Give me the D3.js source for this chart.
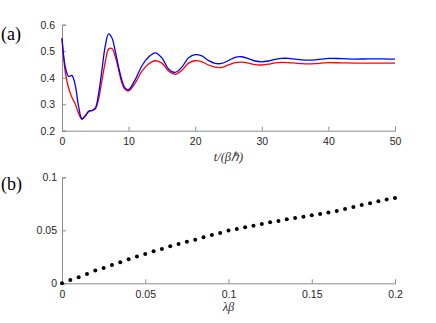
<!DOCTYPE html>
<html>
<head>
<meta charset="utf-8">
<script src="https://cdn.jsdelivr.net/npm/d3@7"></script>
<style>
  body {margin: 0; background: #fff;}
  .axis path, .axis line {stroke: #8c8c8c; stroke-width: 1;}
  .axis text {font-family: 'Liberation Sans', Arial, sans-serif; font-size: 10.5px; fill: #262626;}
  .panel {font-family: 'Liberation Serif', 'Times New Roman', serif; font-size: 18px; fill: #000;}
  .xlabel {font-family: 'Liberation Serif', 'Times New Roman', serif; font-size: 12.5px; font-style: italic; fill: #333;}
</style>
</head>
<body>
<script>
// panel (a): time series
const tValues = [0, 0.5, 1, 1.5, 2, 2.5, 3, 3.5, 4, 4.5, 5, 5.5, 6, 6.5, 7, 7.5, 8, 8.5, 9, 9.5,
  10, 11, 12, 13, 14, 15, 16, 17, 18, 19, 20, 21, 22, 23, 24, 25, 26, 27, 28, 29,
  30, 31, 32, 33, 34, 35, 36, 37, 38, 39, 40, 42, 44, 46, 48, 50]
const blueValues = [0.549, 0.44, 0.405, 0.408, 0.37, 0.29, 0.245, 0.255, 0.273, 0.277, 0.285, 0.34, 0.43, 0.52, 0.565, 0.55, 0.5, 0.44, 0.39, 0.36,
  0.355, 0.393, 0.445, 0.478, 0.494, 0.475, 0.433, 0.42, 0.44, 0.475, 0.487, 0.482, 0.465, 0.454, 0.454, 0.465, 0.477, 0.479, 0.472, 0.463,
  0.46, 0.463, 0.469, 0.473, 0.473, 0.47, 0.467, 0.466, 0.467, 0.47, 0.473, 0.472, 0.47, 0.471, 0.471, 0.47]
const redValues = [0.549, 0.42, 0.36, 0.325, 0.3, 0.265, 0.243, 0.258, 0.272, 0.276, 0.282, 0.32, 0.39, 0.46, 0.508, 0.51, 0.48, 0.43, 0.38, 0.355,
  0.35, 0.38, 0.425, 0.452, 0.464, 0.455, 0.425, 0.413, 0.428, 0.455, 0.464, 0.46, 0.448, 0.44, 0.439, 0.448, 0.457, 0.459, 0.455, 0.449,
  0.448, 0.451, 0.456, 0.458, 0.457, 0.455, 0.453, 0.452, 0.453, 0.455, 0.457, 0.456, 0.455, 0.455, 0.455, 0.455]
const topXTicks = [0, 10, 20, 30, 40, 50]
const topYTicks = [0.2, 0.3, 0.4, 0.5, 0.6]

// panel (b): scatter
const lambdaValues = [0, 0.005, 0.01, 0.015, 0.02, 0.025, 0.03, 0.035, 0.04, 0.045, 0.05, 0.055, 0.06, 0.065, 0.07, 0.075, 0.08, 0.085, 0.09, 0.095,
  0.1, 0.105, 0.11, 0.115, 0.12, 0.125, 0.13, 0.135, 0.14, 0.145, 0.15, 0.155, 0.16, 0.165, 0.17, 0.175, 0.18, 0.185, 0.19, 0.195, 0.2]
const dotValues = [0, 0.0031, 0.0057, 0.0088, 0.012, 0.0145, 0.0173, 0.0198, 0.0226, 0.0252, 0.0277, 0.0303, 0.0324, 0.0349, 0.0371, 0.0393, 0.0412, 0.0434, 0.0455, 0.0475,
  0.0497, 0.0513, 0.0528, 0.0544, 0.056, 0.0575, 0.0588, 0.0604, 0.0616, 0.0629, 0.0642, 0.0654, 0.0667, 0.0682, 0.0701, 0.072, 0.0739, 0.0755, 0.0774, 0.079, 0.0805]
const botXTicks = [0, 0.05, 0.1, 0.15, 0.2]
const botYTicks = [0, 0.05, 0.1]

const svg = d3.select('body').append('svg')
  .attr('width', 436).attr('height', 323)

const left = 62, right = 395

// top panel
const x1 = d3.scaleLinear().domain([0, 50]).range([left, right])
const y1 = d3.scaleLinear().domain([0.2, 0.6]).range([130.7, 24.7])

svg.append('g').attr('class', 'axis')
  .attr('transform', `translate(0,${y1(0.2)})`)
  .call(d3.axisBottom(x1).tickValues(topXTicks).tickSize(-4).tickPadding(7).tickFormat(d3.format('')))
svg.append('g').attr('class', 'axis')
  .attr('transform', `translate(${left},0)`)
  .call(d3.axisLeft(y1).tickValues(topYTicks).tickSize(-4).tickPadding(7).tickFormat(d3.format('.1f')))

const line1 = d3.line().x((d, i) => x1(tValues[i])).y(d => y1(d)).curve(d3.curveCatmullRom)
svg.append('path').datum(redValues).attr('d', line1)
  .attr('fill', 'none').attr('stroke', '#ff0000').attr('stroke-width', 1.3)
svg.append('path').datum(blueValues).attr('d', line1)
  .attr('fill', 'none').attr('stroke', '#0000ff').attr('stroke-width', 1.3)

svg.append('text').attr('class', 'panel').attr('x', 1).attr('y', 40).text('(a)')
svg.append('text').attr('class', 'xlabel').attr('x', x1(25)).attr('y', 161)
  .attr('text-anchor', 'middle').text('t/(βℏ)')

// bottom panel
const x2 = d3.scaleLinear().domain([0, 0.2]).range([left, right])
const y2 = d3.scaleLinear().domain([0, 0.1]).range([283.3, 177.3])

svg.append('g').attr('class', 'axis')
  .attr('transform', `translate(0,${y2(0)})`)
  .call(d3.axisBottom(x2).tickValues(botXTicks).tickSize(-4).tickPadding(7).tickFormat(d3.format('')))
svg.append('g').attr('class', 'axis')
  .attr('transform', `translate(${left},0)`)
  .call(d3.axisLeft(y2).tickValues(botYTicks).tickSize(-4).tickPadding(5).tickFormat(d3.format('')))

svg.append('g').selectAll('circle').data(dotValues).enter().append('circle')
  .attr('cx', (d, i) => x2(lambdaValues[i]))
  .attr('cy', d => y2(d))
  .attr('r', 2)
  .attr('fill', '#000')

svg.append('text').attr('class', 'panel').attr('x', 1).attr('y', 190).text('(b)')
svg.append('text').attr('class', 'xlabel').attr('x', x2(0.1)).attr('y', 311)
  .attr('text-anchor', 'middle').text('λβ')
</script>
</body>
</html>
